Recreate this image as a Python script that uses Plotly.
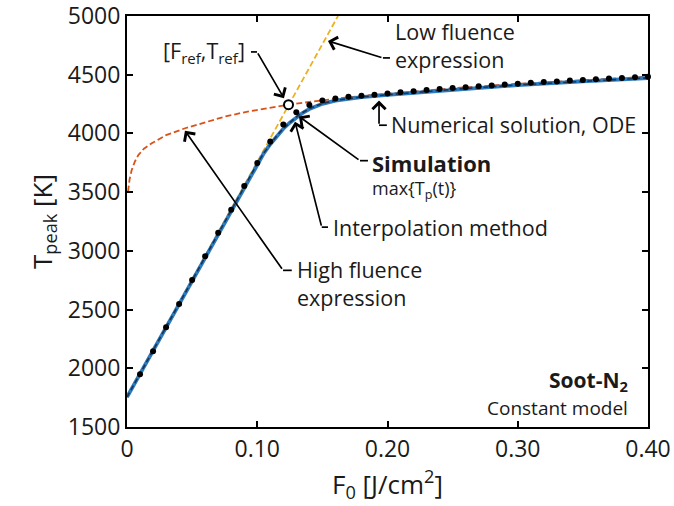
import plotly.graph_objects as go

# ---- data ---------------------------------------------------------------
# Simulation: peak particle temperature max{Tp(t)} per laser fluence
sim_F = [0.01, 0.02, 0.03, 0.04, 0.05, 0.06, 0.07, 0.08, 0.09, 0.10,
         0.11, 0.12, 0.13, 0.14, 0.15, 0.16, 0.17, 0.18, 0.19, 0.20,
         0.21, 0.22, 0.23, 0.24, 0.25, 0.26, 0.27, 0.28, 0.29, 0.30,
         0.31, 0.32, 0.33, 0.34, 0.35, 0.36, 0.37, 0.38, 0.39, 0.40]
sim_T = [1950, 2145, 2350, 2548, 2752, 2955, 3155, 3350, 3552, 3748,
         3932, 4075, 4180, 4242, 4280, 4298, 4312, 4320, 4330, 4340,
         4350, 4360, 4369, 4378, 4386, 4394, 4402, 4409, 4417, 4424,
         4431, 4437, 4443, 4450, 4456, 4461, 4467, 4473, 4478, 4483]

# Numerical solution of the ODE
ode_F = [0.0, 0.05, 0.09, 0.10, 0.105, 0.11, 0.115, 0.12, 0.125, 0.13,
         0.135, 0.14, 0.145, 0.15, 0.16, 0.17, 0.18, 0.20, 0.25, 0.30,
         0.35, 0.40]
ode_T = [1755, 2750, 3548, 3742, 3830, 3908, 3978, 4040, 4092, 4138,
         4176, 4208, 4232, 4252, 4280, 4298, 4309, 4328, 4374, 4412,
         4444, 4472]

# Interpolation method
interp_F = [0.0, 0.05, 0.09, 0.10, 0.105, 0.11, 0.115, 0.12, 0.125, 0.13,
            0.135, 0.14, 0.145, 0.15, 0.16, 0.17, 0.18, 0.20, 0.25, 0.30,
            0.35, 0.40]
interp_T = [1755, 2750, 3548, 3742, 3832, 3910, 3980, 4042, 4094, 4140,
            4178, 4210, 4234, 4254, 4282, 4299, 4310, 4329, 4375, 4413,
            4445, 4473]

# Low fluence expression (linear regime)
low_F = [0.0, 0.05, 0.10, 0.124, 0.162]
low_T = [1755, 2757, 3758, 4245, 5000]

# High fluence expression
high_F = [0.0008, 0.002, 0.0036, 0.006, 0.0087, 0.013, 0.019, 0.03, 0.0446,
          0.06, 0.075, 0.09, 0.10, 0.124, 0.14, 0.15, 0.16, 0.17, 0.20,
          0.25, 0.30, 0.35, 0.40]
high_T = [3505, 3610, 3688, 3760, 3816, 3870, 3916, 3985, 4044,
          4095, 4143, 4180, 4200, 4245, 4268, 4283, 4296, 4308, 4338,
          4385, 4423, 4455, 4483]

# Reference point where both asymptotic expressions meet
ref_F = [0.124]
ref_T = [4245]

x_ticks = [0, 0.10, 0.20, 0.30, 0.40]
x_ticktext = ["0", "0.10", "0.20", "0.30", "0.40"]
y_ticks = [1500, 2000, 2500, 3000, 3500, 4000, 4500, 5000]

# ---- styling ------------------------------------------------------------
FONT = "Open Sans"
TXT = "#1a1a1a"
BLUE = "#2b7bbd"
DARK = "#1d3354"
ORANGE = "#d95319"
YELLOW = "#edb120"
ANN = 21.5

fig = go.Figure()

fig.add_trace(go.Scatter(x=high_F, y=high_T, mode="lines",
                         line=dict(color=ORANGE, width=1.8, dash="6px,3px"),
                         name="High fluence expression"))
fig.add_trace(go.Scatter(x=low_F, y=low_T, mode="lines",
                         line=dict(color=YELLOW, width=1.8, dash="6px,3px"),
                         name="Low fluence expression"))
fig.add_trace(go.Scatter(x=ode_F, y=ode_T, mode="lines",
                         line=dict(color=BLUE, width=3.8),
                         name="Numerical solution, ODE"))
fig.add_trace(go.Scatter(x=interp_F, y=interp_T, mode="lines",
                         line=dict(color=DARK, width=1.6, dash="5px,3px"),
                         name="Interpolation method"))
fig.add_trace(go.Scatter(x=sim_F, y=sim_T, mode="markers",
                         marker=dict(color="black", size=6),
                         cliponaxis=False, name="Simulation"))
fig.add_trace(go.Scatter(x=ref_F, y=ref_T, mode="markers",
                         marker=dict(color="white", size=9,
                                     line=dict(color="black", width=2)),
                         cliponaxis=False, name="[Fref,Tref]"))

annotations = []
shapes = []


def arrow(tip, tail, hook=None):
    annotations.append(dict(x=tip[0], y=tip[1], ax=tail[0], ay=tail[1],
                            xref="x", yref="y", axref="x", ayref="y",
                            text="", showarrow=True, arrowhead=4,
                            arrowsize=1.5, arrowwidth=1.7,
                            arrowcolor="black"))
    if hook is not None:
        shapes.append(dict(type="line", xref="x", yref="y",
                           x0=tail[0], y0=tail[1], x1=hook[0], y1=hook[1],
                           line=dict(color="black", width=1.7)))


def label(x, y, text, size=ANN, anchor="left"):
    annotations.append(dict(x=x, y=y, xref="x", yref="y", text=text,
                            showarrow=False, xanchor=anchor,
                            yanchor="middle", align=anchor,
                            font=dict(family=FONT, size=size, color=TXT)))


# [Fref, Tref]
arrow((0.1205, 4300), (0.0998, 4694), hook=(0.0952, 4694))
label(0.0925, 4694, "[F<sub>ref</sub>,T<sub>ref</sub>]", anchor="right")

# Low fluence expression
arrow((0.1543, 4788), (0.1965, 4643), hook=(0.2019, 4643))
label(0.2045, 4750, "Low fluence<br>expression")

# Numerical solution, ODE
arrow((0.1935, 4280), (0.1935, 4070), hook=(0.1995, 4070))
label(0.2010, 4075, "Numerical solution, ODE")

# Simulation
arrow((sim_F[12] + 0.002, sim_T[12] - 35), (0.1789, 3768), hook=(0.1850, 3768))
label(0.1862, 3752, "<b>Simulation</b>", size=22)
label(0.1862, 3525, "max{T<sub>p</sub>(t)}", size=18)

# Interpolation method
arrow((0.129, 4100), (0.1495, 3202), hook=(0.1543, 3202))
label(0.1565, 3200, "Interpolation method")

# High fluence expression
arrow((0.0445, 4023), (0.1198, 2834), hook=(0.1265, 2834))
label(0.1290, 2718, "High fluence<br>expression")

# Case labels
label(0.3865, 1892, "<b>Soot-N<sub>2</sub></b>", size=21, anchor="right")
label(0.3865, 1665, "Constant model", size=19, anchor="right")

axis_common = dict(showgrid=False, zeroline=False, showline=True,
                   linecolor="black", linewidth=2, mirror="ticks",
                   ticks="inside", ticklen=6, tickwidth=1.5,
                   tickcolor="black", automargin=False,
                   ticklabeloverflow="allow",
                   tickfont=dict(family=FONT, size=23, color=TXT))

fig.update_layout(
    width=674, height=506,
    margin=dict(l=127, r=26, t=16, b=79),
    paper_bgcolor="white", plot_bgcolor="white",
    showlegend=False,
    font=dict(family=FONT, color=TXT),
    annotations=annotations,
    shapes=shapes,
    xaxis=dict(range=[0, 0.40], tickvals=x_ticks, ticktext=x_ticktext,
               title=dict(text="F<sub>0</sub> [J/cm<sup>2</sup>]",
                          font=dict(family=FONT, size=26, color=TXT),
                          standoff=4),
               **axis_common),
    yaxis=dict(range=[1500, 5000], tickvals=y_ticks,
               title=dict(text="T<sub>peak</sub> [K]",
                          font=dict(family=FONT, size=26, color=TXT),
                          standoff=8),
               **axis_common),
)

fig.write_html("out.html")
